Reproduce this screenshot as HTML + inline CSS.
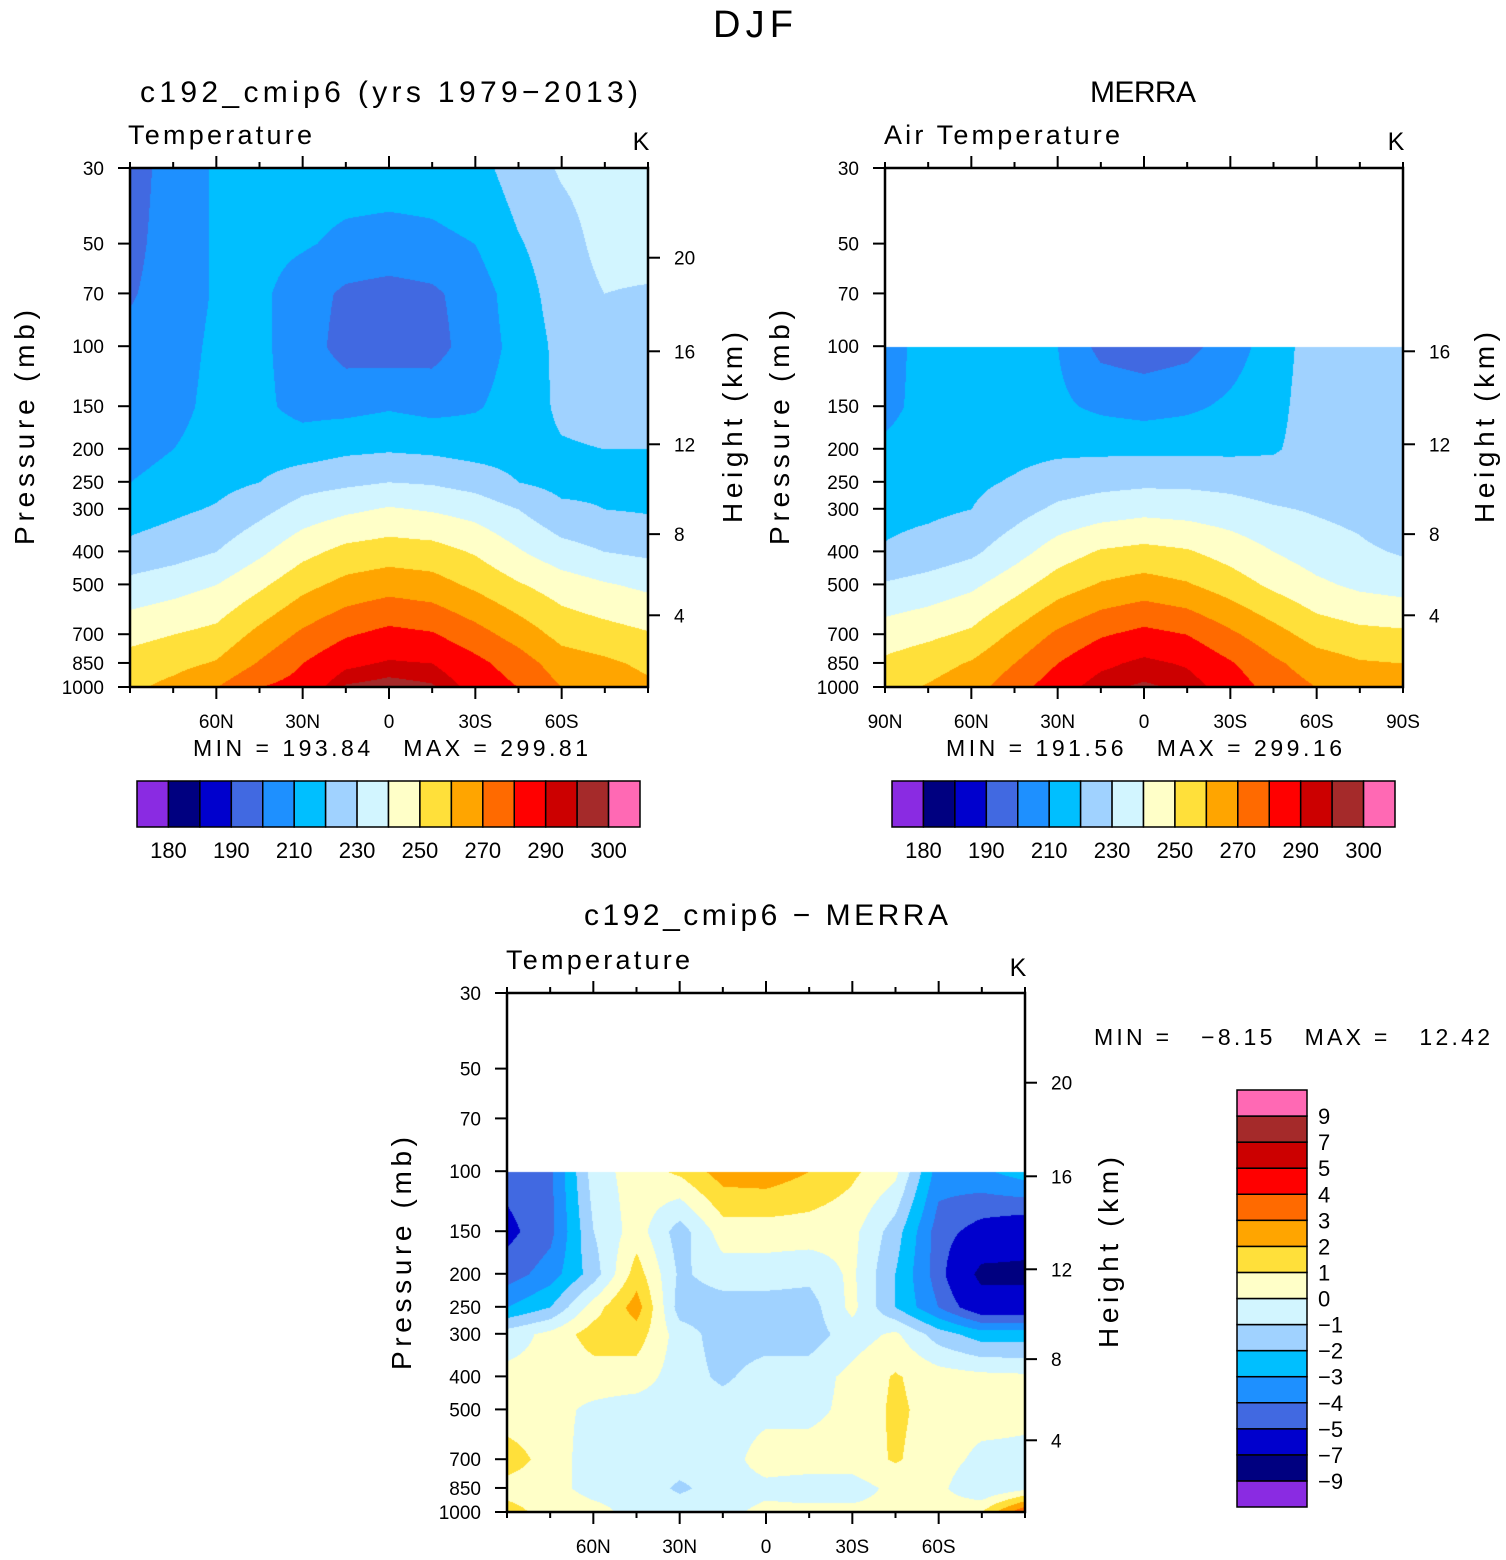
<!DOCTYPE html>
<html><head><meta charset="utf-8">
<style>
body{margin:0;background:#fff;width:1506px;height:1560px;position:relative;overflow:hidden;font-family:"Liberation Sans",sans-serif;}
canvas{position:absolute;}
svg{position:absolute;left:0;top:0;}
text{font-family:"Liberation Sans",sans-serif;fill:#000;white-space:pre;}
</style></head>
<body>
<canvas id="c1" width="518" height="519" style="left:130px;top:168px"></canvas>
<canvas id="c2" width="518" height="519" style="left:885px;top:168px"></canvas>
<canvas id="c3" width="518" height="519" style="left:507px;top:993px"></canvas>
<svg id="s" width="1506" height="1560"></svg>
<script>
const pressures=[30,50,70,100,150,200,250,300,400,500,700,850,1000];
const latLabels=["90N","60N","30N","0","30S","60S","90S"];
const latTicks=[90,60,30,0,-30,-60,-90];
const pLabels=[30,50,70,100,150,200,250,300,400,500,700,850,1000];
const kmLabels=[4,8,12,16,20];
const kmPressures=[616,356,194,103.5,55];
const colors=["#8a2be2","#000080","#0000cd","#4169e1","#1e90ff","#00bfff","#a0d2ff","#d2f5ff","#ffffc8","#ffe03a","#ffa500","#ff6a00","#ff0000","#cc0000","#a52a2a","#ff69b4"];
const tLevels=[180,185,190,200,210,220,230,240,250,260,270,280,290,295,300];
const tLevelLabels=["180","190","210","230","250","270","290","300"];
const dLevels=[-9,-7,-5,-4,-3,-2,-1,0,1,2,3,4,5,7,9];
const dLevelLabels=["9","7","5","4","3","2","1","0","−1","−2","−3","−4","−5","−7","−9"];
const modelT=[
[195,205,211,212,214,214,214,214,216,225,231,234,235],
[197,205,211,213,211,208,207,208,210,219,226,233,234],
[199,205,211,212,205,198,196,198,205,215,225,230,229],
[203,206,212,212,205,196,195,196,205,213,223,225,225],
[205,207,213,212,207,207,209,207,209,214,222,224,222],
[207,210,214,215,215,218,219,218,216,216,219,220,220],
[210,213,217,220,226,228,230,229,226,220,217,218,218],
[215,218,221,227,234,238,241,239,236,230,222,220,219],
[223,226,230,238,247,253,255,254,249,241,234,230,228],
[233,236,240,248,257,263,266,264,258,251,245,241,238],
[247,250,253,263,272,279,283,281,274,266,257,254,251],
[254,257,261,271,280,288,291,290,283,275,265,262,258],
[258,263,270,280,284,296,298,296,287,280,270,266,262]];
const merraT=[
null,null,null,
[205,215,215,215,210,197,195,197,205,215,225,226,226],
[207,214,215,215,212,208,206,208,212,217,225,226,226],
[212,215,216,217,218,218,218,218,218,219,224,226,226],
[215,216,218,221,225,227,228,228,227,225,225,226,225],
[217,218,220,226,232,235,237,236,234,231,229,227,221],
[221,224,228,236,245,251,253,251,246,240,235,232,229],
[231,234,238,246,255,261,264,261,255,248,242,238,236],
[245,248,252,262,272,279,283,280,272,264,256,253,252],
[252,256,261,270,280,288,292,289,281,272,265,261,260],
[256,261,266,276,286,294,296,294,286,276,270,268,265]];
const diffT=[
null,null,null,
[-4.6,-4.2,-0.5,0.5,1.2,2.5,2.6,2,1.2,0.3,-3.5,-3.2,-2.5],
[-5.3,-4.3,-1,0.5,-1.5,0.5,0.5,0.5,0.3,-1.5,-4.5,-5.5,-6],
[-4.5,-3.5,-1.5,1.5,-1.2,-0.5,-0.5,-0.7,0.2,-2,-4.5,-7.5,-7.5],
[-3,-2,0.5,2.5,-1.5,-1.5,-1.5,-1.5,0.3,-2,-4,-6,-6],
[-0.5,0.3,1.5,1.5,-0.5,-1.5,-1.5,-1.5,-0.5,0.2,-1.5,-2.5,-2.5],
[0.3,0.3,0.5,0.5,-0.5,-1.2,-0.5,-0.5,0.3,1.1,0.5,0.3,0.2],
[0.3,0.3,-0.2,-0.5,-0.5,-0.5,-0.3,-0.3,0.3,1.2,0.6,0.5,0.3],
[1.6,0.5,-0.5,-0.5,-0.5,-0.5,0.5,0.5,0.5,1.1,0.5,-0.3,-0.3],
[0.5,0.3,-0.3,-0.3,-1.2,-0.5,-0.3,-0.5,-0.5,0.3,0.3,-1,-0.3],
[1.5,0.5,0.3,-0.3,-0.3,-0.3,0.3,0.3,0.3,0.3,0.5,1,4]];

const W=518,H=519,L30=Math.log10(30),LR=3-L30;
function yOfP(p){return (Math.log10(p)-L30)/LR*H;}
function xOfLat(lat){return (90-lat)/180*W;}
function hex(c){return [parseInt(c.slice(1,3),16),parseInt(c.slice(3,5),16),parseInt(c.slice(5,7),16)];}
const rgb=colors.map(hex);
function drawField(id,grid,levels){
  const cv=document.getElementById(id),ctx=cv.getContext('2d');
  const img=ctx.createImageData(W,H),d=img.data;
  const ly=pressures.map(p=>yOfP(p));
  for(let y=0;y<H;y++){
    let r=0;while(r<pressures.length-2&&ly[r+1]<y)r++;
    if(!grid[r]||!grid[r+1]) continue;
    const fy=Math.min(1,Math.max(0,(y-ly[r])/(ly[r+1]-ly[r])));
    for(let x=0;x<W;x++){
      const fx=x/(W-1)*12;let c=Math.min(11,Math.floor(fx));const t=fx-c;
      const v=(grid[r][c]*(1-t)+grid[r][c+1]*t)*(1-fy)+(grid[r+1][c]*(1-t)+grid[r+1][c+1]*t)*fy;
      let k=0;while(k<levels.length&&v>=levels[k])k++;
      const col=rgb[k],i=(y*W+x)*4;d[i]=col[0];d[i+1]=col[1];d[i+2]=col[2];d[i+3]=255;
    }
  }
  ctx.putImageData(img,0,0);
}
drawField('c1',modelT,tLevels);
drawField('c2',merraT,tLevels);
drawField('c3',diffT,dLevels);

const S=document.getElementById('s'),NS='http://www.w3.org/2000/svg';
function el(tag,attrs,txt){const e=document.createElementNS(NS,tag);for(const k in attrs)e.setAttribute(k,attrs[k]);if(txt!==undefined)e.textContent=txt;S.appendChild(e);return e;}
function txt(x,y,s,size,anchor,name,rot,len){const a={x:x,y:y,'font-size':size,'text-anchor':anchor||'start'};if(rot)a.transform='rotate(-90 '+x+' '+y+')';if(len){a.textLength=len;a.lengthAdjust='spacing';}const e=el('text',a,s);return e;}
function axes(ox,oy,showEnds,nKm,pfx){
  const fr=el('rect',{x:ox,y:oy,width:W,height:H,fill:'none',stroke:'#000','stroke-width':2.5});
  
  pLabels.forEach(p=>{const y=oy+yOfP(p);el('line',{x1:ox-12,x2:ox,y1:y,y2:y,stroke:'#000','stroke-width':2});
    txt(ox-26,y+7,String(p),19,'end',pfx+'-pressure-tick-label');});
  kmLabels.slice(0,nKm).forEach((z,i)=>{const y=oy+yOfP(kmPressures[i]);el('line',{x1:ox+W,x2:ox+W+12,y1:y,y2:y,stroke:'#000','stroke-width':2});
    txt(ox+W+26,y+7,String(z),19,'start',pfx+'-height-tick-label');});
  for(let lat=90;lat>=-90;lat-=15){const x=ox+xOfLat(lat);const major=lat%30===0&&Math.abs(lat)!==90;
    el('line',{x1:x,x2:x,y1:oy,y2:oy-(major?12:6),stroke:'#000','stroke-width':2});
    el('line',{x1:x,x2:x,y1:oy+H,y2:oy+H+(major?12:6),stroke:'#000','stroke-width':2});}
  latTicks.forEach((lat,i)=>{if(!showEnds&&Math.abs(lat)===90)return;
    txt(ox+xOfLat(lat),oy+H+41,latLabels[i],19,'middle',pfx+'-latitude-tick-label');});
}
function hbar(ox,oy,pfx){
  const bw=503/16;
  colors.forEach((c,i)=>{const r=el('rect',{x:ox+i*bw,y:oy,width:bw,height:46,fill:c,stroke:'#000','stroke-width':1.5});
    });
  tLevelLabels.forEach((s,i)=>{const k=i===7?14:i*2;txt(ox+(k+1)*bw,oy+77,s,22,'middle',pfx+'-colorbar-label');});
}
txt(713,37,'DJF',38,'start','figure-title',false,80);
// panel1
axes(130,168,false,5,'model');
txt(140,102,'c192_cmip6 (yrs 1979−2013)',30,'start','model-title',false,498);
txt(128,144,'Temperature',27,'start','model-variable-label',false,184);
txt(641,150,'K',25,'middle','model-units');
txt(193,756,'MIN = 193.84   MAX = 299.81',23,'start','model-min-max',false,395);
txt(34,545,'Pressure (mb)',28,'start','model-y-axis-title',true,235);
txt(742,523,'Height (km)',28,'start','model-height-axis-title',true,191);
hbar(137,781,'model');
// panel2
axes(885,168,true,4,'merra');
txt(1090,102,'MERRA',30,'start','merra-title',false,106);
txt(884,144,'Air Temperature',27,'start','merra-variable-label',false,236);
txt(1396,150,'K',25,'middle','merra-units');
txt(946,756,'MIN = 191.56   MAX = 299.16',23,'start','merra-min-max',false,396);
txt(789,545,'Pressure (mb)',28,'start','merra-y-axis-title',true,235);
txt(1494,523,'Height (km)',28,'start','merra-height-axis-title',true,191);
hbar(892,781,'merra');
// panel3
axes(507,993,false,5,'diff');
txt(584,925,'c192_cmip6 − MERRA',30,'start','diff-title',false,364);
txt(506,969,'Temperature',27,'start','diff-variable-label',false,184);
txt(1018,976,'K',25,'middle','diff-units');
txt(1094,1045,'MIN =   −8.15   MAX =   12.42',23,'start','diff-min-max',false,396);
txt(411,1370,'Pressure (mb)',28,'start','diff-y-axis-title',true,233);
txt(1118,1348,'Height (km)',28,'start','diff-height-axis-title',true,191);
const vh=417/16;
colors.forEach((c,i)=>{const r=el('rect',{x:1237,y:1090+(15-i)*vh,width:70,height:vh,fill:c,stroke:'#000','stroke-width':1.5});
  });
dLevelLabels.forEach((s,i)=>{txt(1318,1090+(i+1)*vh+8,s,22,'start','diff-colorbar-label');});
</script>
</body></html>
